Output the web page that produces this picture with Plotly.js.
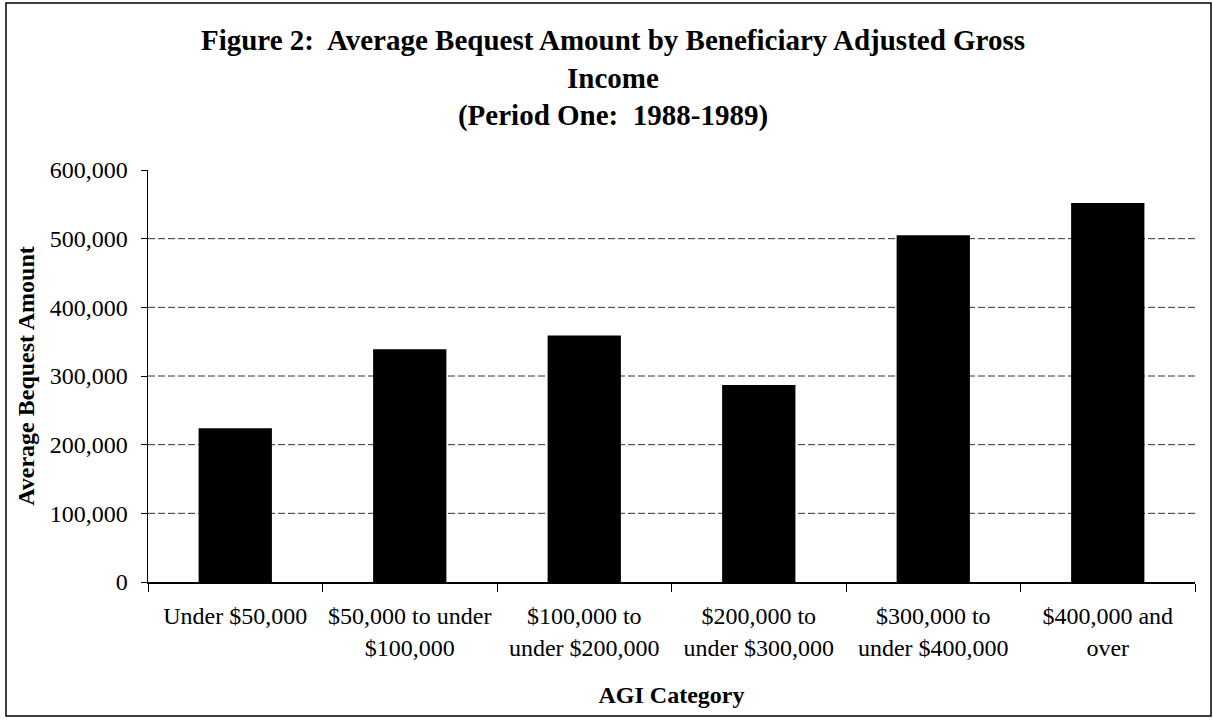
<!DOCTYPE html>
<html>
<head>
<meta charset="utf-8">
<script src="https://cdn.plot.ly/plotly-3.0.1.min.js"></script>
<style>
  html, body { margin: 0; padding: 0; background: #ffffff; }
  #chart { width: 1213px; height: 727px; }
</style>
</head>
<body>
<div id="chart"></div>
<script>
// ---- data ----
const categories = [
  "Under $50,000",
  "$50,000 to under<br>$100,000",
  "$100,000 to<br>under $200,000",
  "$200,000 to<br>under $300,000",
  "$300,000 to<br>under $400,000",
  "$400,000 and<br>over"
];
const averageBequest = [224000, 339000, 359000, 287000, 505000, 552000];
const yTickValues = [0, 100000, 200000, 300000, 400000, 500000, 600000];
const yTickLabels = ["0", "100,000", "200,000", "300,000", "400,000", "500,000", "600,000"];
const gridValues = [100000, 200000, 300000, 400000, 500000];

const titleText = "Figure 2:  Average Bequest Amount by Beneficiary Adjusted Gross<br>Income<br>(Period One:  1988-1989)";
const xTitle = "AGI Category";
const yTitle = "Average Bequest Amount";

// ---- layout geometry ----
const W = 1213, H = 727;
const M = { l: 148, r: 18, t: 170, b: 145 };
const plotW = W - M.l - M.r, plotH = H - M.t - M.b;
const px2x = px => (px - M.l) / plotW;
const py2y = py => (H - M.b - py) / plotH;

const FONT = "Liberation Serif, Times New Roman, serif";

const shapes = gridValues.map(v => ({
  type: "line", xref: "paper", yref: "y",
  x0: 0, x1: 1, y0: v, y1: v,
  line: { color: "#333333", width: 1, dash: "7px,3px" },
  layer: "below"
}));
// outer frame
shapes.push({
  type: "rect", xref: "paper", yref: "paper",
  x0: px2x(6), x1: px2x(1211), y0: py2y(716), y1: py2y(3),
  line: { color: "#000000", width: 1.5 },
  fillcolor: "rgba(0,0,0,0)", layer: "above"
});

const trace = {
  type: "bar",
  x: categories,
  y: averageBequest,
  marker: { color: "#000000", line: { width: 0 } },
  hoverinfo: "x+y"
};

const layout = {
  width: W, height: H,
  margin: M,
  paper_bgcolor: "#ffffff",
  plot_bgcolor: "#ffffff",
  showlegend: false,
  bargap: 0.58,
  font: { family: FONT, color: "#000000", size: 24 },
  title: {
    text: titleText,
    font: { family: FONT, size: 29, color: "#000000", weight: "bold" },
    xref: "container", x: 613 / W, xanchor: "center",
    yref: "container", y: 1 - 50 / H, yanchor: "top"
  },
  xaxis: {
    type: "category",
    tickson: "boundaries",
    ticks: "outside", ticklen: 8, tickwidth: 1, tickcolor: "#000000",
    showline: true, linecolor: "#000000", linewidth: 1.5,
    showgrid: false, zeroline: false,
    tickfont: { family: FONT, size: 24, color: "#000000" },
    ticklabelstandoff: 12,
    automargin: false,
    title: { text: xTitle, font: { family: FONT, size: 24, color: "#000000", weight: "bold" }, standoff: 26 }
  },
  yaxis: {
    range: [0, 600000],
    tickvals: yTickValues, ticktext: yTickLabels,
    ticks: "outside", ticklen: 6, tickwidth: 1, tickcolor: "#000000",
    showline: true, linecolor: "#000000", linewidth: 1.5,
    showgrid: false, zeroline: false,
    tickfont: { family: FONT, size: 24, color: "#000000" },
    ticklabelstandoff: 8,
    automargin: false,
    title: { text: yTitle, font: { family: FONT, size: 24, color: "#000000", weight: "bold" }, standoff: 8 }
  },
  shapes: shapes
};

Plotly.newPlot("chart", [trace], layout, { staticPlot: true, displayModeBar: false });
</script>
</body>
</html>
